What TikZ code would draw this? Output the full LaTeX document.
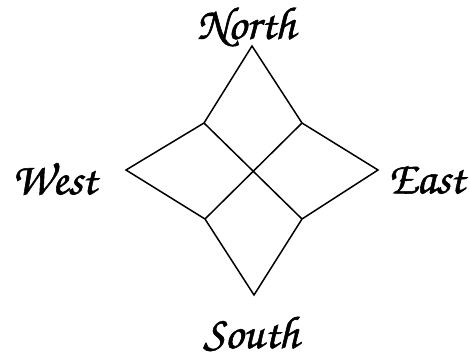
\documentclass[tikz,border=0pt]{standalone}
\usepackage{fontspec}
\newfontfamily\chorusfont[FakeBold=1.2]{texgyrechorus-mediumitalic.otf}
\begin{document}
\begin{tikzpicture}[x=1pt,y=-1pt,
  lbl/.style={font=\fontsize{46}{46}\selectfont\chorusfont, inner sep=0pt},
  edge/.style={line width=1.5pt, line join=miter}]
\useasboundingbox (0,0) rectangle (470,361);
\coordinate (N) at (252,46);
\coordinate (S) at (254,295);
\coordinate (W) at (126,170);
\coordinate (E) at (378,170);
\coordinate (NW) at (204,123);
\coordinate (NE) at (302,123);
\coordinate (SW) at (205,219);
\coordinate (SE) at (302,219);
\draw[edge] (N) -- (NE) -- (E) -- (SE) -- (S) -- (SW) -- (W) -- (NW) -- cycle;
\draw[edge] (NW) -- (SE);
\draw[edge] (NE) -- (SW);
\node[lbl] (north) at (246,27) {North};
\node[lbl] (west) at (54,179) {West};
\node[lbl] (east) at (426,180) {East};
\node[lbl] (south) at (251,334) {South};
\end{tikzpicture}
\end{document}
